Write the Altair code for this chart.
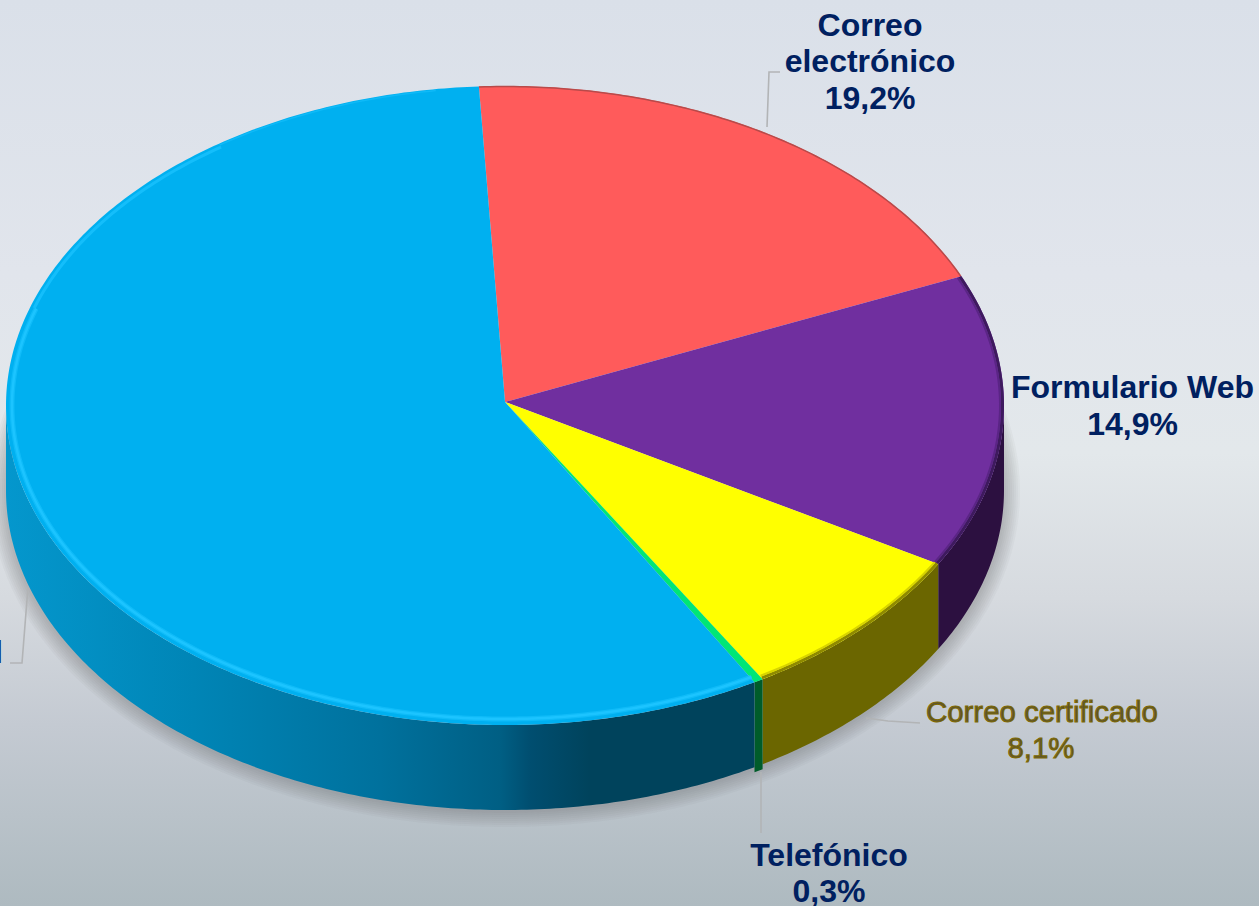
import math
import altair as alt
import pandas as pd

# Channel shares, clockwise from the first slice
channels = ["Correo electrónico", "Formulario Web", "Correo certificado", "Telefónico", "Presencial"]
shares = [19.2, 14.9, 8.1, 0.3, 57.5]
share_labels = ["19,2%", "14,9%", "8,1%", "0,3%", "57,5%"]
top_colors = ["#ff5b5b", "#702f9f", "#ffff00", "#00e676", "#00b0f0"]
wall_colors = ["#ff5b5b", "#2c1040", "#6b6600", "#005c2a", "#00435c"]

W, H = 1259, 906
CX, CY, RX, RY = 505, 405.5, 499, 319.5   # ellipse of the top face
TIP_X, TIP_Y = 505, 402                   # where the slices meet
DEPTH = 85
START = -3.0


def rim_xy(deg, inset=0.0, drop=0.0):
    a = math.radians(deg)
    return CX + (RX - inset) * math.sin(a), CY - (RY - inset) * math.cos(a) + drop


def arc(d0, d1, inset=0.0, drop=0.0):
    n = max(2, int(abs(d1 - d0) * 1.5))
    return [rim_xy(d0 + (d1 - d0) * i / n, inset, drop) for i in range(n + 1)]


X = alt.X("x:Q", scale=alt.Scale(domain=[0, W], nice=False, zero=False), axis=None)
Y = alt.Y("y:Q", scale=alt.Scale(domain=[H, 0], nice=False, zero=False), axis=None)


def path(points, **mark):
    df = pd.DataFrame(points, columns=["x", "y"]).reset_index(names="i")
    return alt.Chart(df).mark_line(interpolate="linear", **mark).encode(x=X, y=Y, order="i:Q")


def polygon(points, fill):
    return path(list(points) + [points[0]], fill=fill, strokeWidth=0, stroke="transparent")


def gradient(stops, vertical=False):
    return alt.LinearGradient(
        gradient="linear",
        x1=0, y1=0, x2=0 if vertical else 1, y2=1 if vertical else 0,
        stops=[alt.GradientStop(offset=o, color=c) for o, c in stops],
    )


# Slice boundaries in degrees, clockwise from twelve o'clock
edges = [START]
for s in shares:
    edges.append(edges[-1] + s * 3.6)

layers = []

# Backdrop
backdrop = gradient(
    [(0, "#dae0e9"), (0.3, "#e1e5ec"), (0.5, "#e3e8eb"), (0.66, "#d6dadf"),
     (0.8, "#c4cad2"), (1, "#aebac0")],
    vertical=True,
)
layers.append(
    alt.Chart(pd.DataFrame({"a": [0]})).mark_rect(fill=backdrop).encode(
        x=alt.value(0), x2=alt.value(W), y=alt.value(0), y2=alt.value(H)
    )
)

# Soft shadow hugging the lower edge of the disc
for width in (32, 28, 24, 20, 16, 12, 8, 4):
    layers.append(
        path(arc(75, 285, 0, DEPTH + 1), stroke="#555c66", strokeWidth=width,
             strokeOpacity=0.045, strokeCap="butt")
    )

# Side wall, one piece per slice that faces the viewer
blue_wall = gradient(
    [(0, "#0497cd"), (0.25, "#0085b6"), (0.5, "#00719d"), (0.66, "#005f84"),
     (0.7, "#004e70"), (0.78, "#00435c"), (1, "#00435c")]
)
for k in range(1, 5):
    t0 = max(edges[k], 90)
    t1 = min(edges[k + 1], 270)
    top = arc(t0, t1)
    # The narrow slice sticks out slightly below its neighbours
    bottom = arc(t1, t0, 0, DEPTH + (5 if k == 3 else 0))
    fill = blue_wall if k == 4 else wall_colors[k]
    layers.append(polygon(top + bottom, fill))

# Top faces
for k in range(5):
    pts = [(TIP_X, TIP_Y)] + arc(edges[k], edges[k + 1])
    layers.append(polygon(pts, top_colors[k]))

# Bevel along the rim of the top face
layers += [
    path(arc(edges[0], edges[1], 0.5), stroke="#b84a4a", strokeWidth=1.5),
    path(arc(edges[1], edges[2], 1.5), stroke="#3e1a5e", strokeWidth=3),
    path(arc(edges[1], edges[2], 4), stroke="#5a2585", strokeWidth=2),
    path(arc(edges[2], edges[3], 1.5), stroke="#8f8a00", strokeWidth=3),
    path(arc(edges[2], edges[3], 4), stroke="#d8d400", strokeWidth=2),
    path(arc(edges[4], 288, 6), stroke="#1cc4ff", strokeWidth=5, strokeOpacity=0.55),
    path(arc(edges[4], 288, 6), stroke="#1cc4ff", strokeWidth=2.5),
    path(arc(288, 325, 4), stroke="#1cc4ff", strokeWidth=3, strokeOpacity=0.7),
    path(arc(325, 352, 1.5), stroke="#1cc4ff", strokeWidth=1.5, strokeOpacity=0.5),
]

# Leader lines from the disc to the labels
leaders = [
    [(767, 127), (769, 72), (780, 72)],
    [(866, 718), (888, 721), (920, 723)],
    [(761, 772), (761, 833)],
    [(28, 587), (22, 663), (10, 663)],
]
for pts in leaders:
    layers.append(path(pts, stroke="#b2b4b6", strokeWidth=1.6))

# Labels: text lines with their anchor and baseline
NAVY = "#002060"
bold = dict(font="Liberation Sans", fontWeight="bold", fontSize=32, color=NAVY)
label_rows = [
    ("Correo", 870, 36, "center", bold),
    ("electrónico", 870, 72, "center", bold),
    (share_labels[0], 870, 109, "center", bold),
    (channels[1], 1132.5, 398, "center", bold),
    (share_labels[1], 1132.5, 435, "center", bold),
    (channels[3], 829, 866, "center", bold),
    (share_labels[3], 829, 902, "center", bold),
    (channels[4], 3, 663, "right", bold),
    (share_labels[4], -68, 699, "center", bold),
]
for text, x, y, align, style in label_rows:
    layers.append(
        alt.Chart(pd.DataFrame({"x": [x], "y": [y], "t": [text]}))
        .mark_text(align=align, baseline="alphabetic", **style)
        .encode(x=X, y=Y, text="t:N")
    )

olive = dict(font="Liberation Sans", fontSize=29.4, color="#5c5430", stroke="#7f6a00", strokeWidth=1)
for text, x, y in [(channels[2], 1042, 722), (share_labels[2], 1041, 758)]:
    layers.append(
        alt.Chart(pd.DataFrame({"x": [x], "y": [y], "t": [text]}))
        .mark_text(align="center", baseline="alphabetic", **olive)
        .encode(x=X, y=Y, text="t:N")
    )

chart = (
    alt.layer(*layers)
    .properties(width=W, height=H, padding=0, autosize=alt.AutoSizeParams(type="none"))
    .configure_view(strokeWidth=0)
)

chart.save("out.html", embed_options={"renderer": "svg", "actions": False})
